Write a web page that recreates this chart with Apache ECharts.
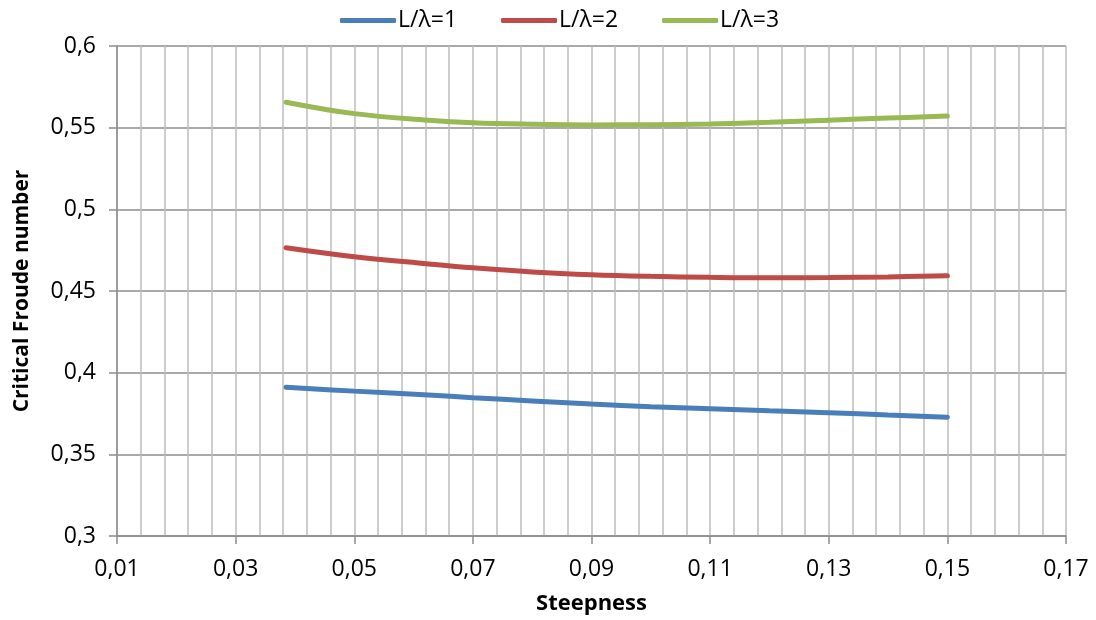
<!DOCTYPE html>
<html>
<head>
<meta charset="utf-8">
<script src="https://cdn.jsdelivr.net/npm/echarts@6/dist/echarts.min.js"></script>
<style>
  html, body { margin: 0; padding: 0; background: #ffffff; }
  #chart { width: 1096px; height: 620px; }
</style>
</head>
<body>
<div id="chart"></div>
<script>
// Wave steepness sampled along each curve
const steepness = [0.0385, 0.05, 0.0625, 0.07, 0.08, 0.09, 0.10, 0.11, 0.12, 0.13, 0.14, 0.15];

// Critical Froude number for each length ratio L/λ
const fr1 = [0.3911, 0.3887, 0.3864, 0.3847, 0.3827, 0.3808, 0.3791, 0.3779, 0.3767, 0.3755, 0.3741, 0.3727];
const fr2 = [0.4765, 0.4710, 0.4666, 0.4642, 0.4617, 0.4600, 0.4590, 0.4584, 0.4581, 0.4582, 0.4586, 0.4593];
const fr3 = [0.5656, 0.5586, 0.5546, 0.5530, 0.5521, 0.5517, 0.5518, 0.5523, 0.5533, 0.5546, 0.5559, 0.5571];

const seriesNames = ['L/λ=1', 'L/λ=2', 'L/λ=3'];
const seriesValues = [fr1, fr2, fr3];
const seriesColors = ['#4a7ebb', '#be4b48', '#98b954'];

const font = '"Open Sans", "DejaVu Sans", sans-serif';
const comma = v => String(Math.round(v * 1000) / 1000).replace('.', ',');

const chart = echarts.init(document.getElementById('chart'), null, { renderer: 'canvas' });

chart.setOption({
  animation: false,
  backgroundColor: '#ffffff',
  grid: { left: 117, right: 30, top: 46, bottom: 80, containLabel: false },
  legend: {
    top: 4,
    left: 335,
    icon: 'roundRect',
    itemWidth: 56,
    itemHeight: 5,
    itemGap: 44,
    itemStyle: { borderWidth: 0 },
    textStyle: { fontFamily: font, fontSize: 23, color: '#000000', padding: [0, 0, 0, -3] },
    data: seriesNames
  },
  xAxis: {
    type: 'value',
    min: 0.01,
    max: 0.17,
    interval: 0.02,
    name: 'Steepness',
    nameLocation: 'middle',
    nameGap: 57,
    nameTextStyle: { fontFamily: font, fontSize: 22, fontWeight: 'bold', color: '#000000' },
    axisLine: { show: true, lineStyle: { color: '#8c8c8c', width: 1.5 } },
    axisTick: { show: true, length: 8, inside: false, lineStyle: { color: '#8c8c8c', width: 1.5 } },
    axisLabel: { fontFamily: font, fontSize: 23, color: '#000000', margin: 22, formatter: v => comma(v) },
    splitLine: { show: true, lineStyle: { color: '#bdbdbd', width: 1.5 } },
    minorTick: { show: false, splitNumber: 5 },
    minorSplitLine: { show: true, lineStyle: { color: '#bdbdbd', width: 1.5 } }
  },
  yAxis: {
    type: 'value',
    min: 0.3,
    max: 0.6,
    interval: 0.05,
    name: 'Critical Froude number',
    nameLocation: 'middle',
    nameGap: 84,
    nameRotate: 90,
    nameTextStyle: { fontFamily: font, fontSize: 21, fontWeight: 'bold', color: '#000000' },
    axisLine: { show: true, lineStyle: { color: '#8c8c8c', width: 1.5 } },
    axisTick: { show: true, length: 8, inside: false, lineStyle: { color: '#8c8c8c', width: 1.5 } },
    axisLabel: { fontFamily: font, fontSize: 23, color: '#000000', margin: 21, formatter: v => comma(v) },
    splitLine: { show: true, lineStyle: { color: '#8c8c8c', width: 1.5 } }
  },
  series: seriesNames.map((name, i) => ({
    name: name,
    type: 'line',
    smooth: 0.4,
    symbol: 'none',
    data: steepness.map((x, j) => [x, seriesValues[i][j]]),
    itemStyle: { color: seriesColors[i] },
    lineStyle: { color: seriesColors[i], width: 5, cap: 'round' }
  }))
});
</script>
</body>
</html>
